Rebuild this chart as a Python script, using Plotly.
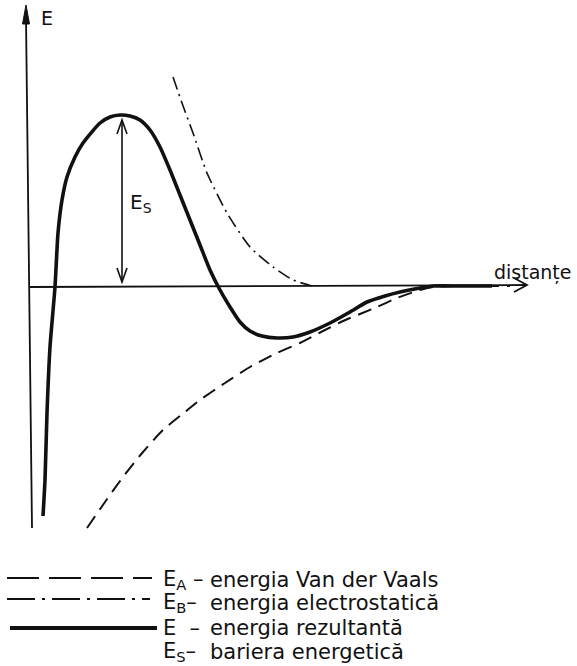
import plotly.graph_objects as go

# ---- data (distance, energy) in arbitrary units; origin at the axes crossing ----
# E - resultant energy (solid, thick)
dist_E = [13, 15, 17, 20, 25, 28, 32, 37, 45, 53, 70, 80, 90, 100, 110, 120, 130,
          140, 150, 160, 170, 180, 190, 200, 210, 220, 232, 247, 263, 280, 300,
          320, 337, 355, 370, 390, 403, 430, 462]
energy_E = [-230, -194, -127, -61, -1, 53, 86, 109, 129, 143, 163, 169, 171, 170,
            166, 156, 139, 116, 91, 66, 41, 16, -4, -21, -36, -45, -50, -52, -51,
            -46, -37, -26, -16, -10, -6, -2, 0, 0, 0]

# E_A - Van der Waals energy (dashed)
dist_A = [57, 75, 93, 113, 133, 155, 170, 195, 220, 247, 270, 293, 313, 347, 367,
          390, 403, 430, 480]
energy_A = [-242, -216, -191, -166, -144, -126, -114, -97, -81, -67, -57, -45, -35,
            -21, -12, -4, -1, 0, 0]

# E_B - electrostatic energy (dash-dot)
dist_B = [143, 152, 163, 177, 197, 220, 243, 263, 282]
energy_B = [209, 183, 153, 113, 73, 39, 19, 6, 0]

# energy barrier E_s (position of the double arrow)
barrier_dist = 92
barrier_low, barrier_high = 4, 166

axis_label_y = "E"
axis_label_x = "distanțe"
legend_symbols = ["E<sub>A</sub> –", "E<sub>B</sub>–", "E  –", "E<sub>S</sub>–"]
legend_texts = ["energia Van der Vaals", "energia electrostatică",
                "energia rezultantă", "bariera energetică"]

FONT = "DejaVu Sans"
BLACK = "#111111"

fig = go.Figure()

# curves
fig.add_trace(go.Scatter(x=dist_A, y=energy_A, mode="lines",
                         line=dict(color=BLACK, width=2, dash="14px,8px", shape="spline", smoothing=0.6),
                         hoverinfo="skip"))
fig.add_trace(go.Scatter(x=dist_B, y=energy_B, mode="lines",
                         line=dict(color=BLACK, width=1.6, dash="13px,5px,2px,5px", shape="spline", smoothing=0.6),
                         hoverinfo="skip"))
fig.add_trace(go.Scatter(x=dist_E, y=energy_E, mode="lines",
                         line=dict(color=BLACK, width=3.6, shape="spline", smoothing=0.6),
                         hoverinfo="skip"))

shapes = []
# y axis (slightly tilted as drawn) and x axis
shapes.append(dict(type="line", x0=2, y0=-242, x1=-4, y1=268, line=dict(color=BLACK, width=1.8)))
shapes.append(dict(type="path", path="M -4,281 L -7.5,262 L -0.5,262 Z",
                   fillcolor=BLACK, line=dict(color=BLACK, width=1)))
shapes.append(dict(type="line", x0=0, y0=-1, x1=497, y1=1, line=dict(color=BLACK, width=1.8)))
shapes.append(dict(type="path", path="M 484,8 L 497,1 L 484,-6",
                   line=dict(color=BLACK, width=1.8)))
# E_s double arrow
shapes.append(dict(type="line", x0=barrier_dist, y0=barrier_low, x1=barrier_dist, y1=barrier_high,
                   line=dict(color=BLACK, width=1.6)))
shapes.append(dict(type="path",
                   path=f"M {barrier_dist-5},{barrier_high-14} L {barrier_dist},{barrier_high} L {barrier_dist+5},{barrier_high-14}",
                   line=dict(color=BLACK, width=1.6)))
shapes.append(dict(type="path",
                   path=f"M {barrier_dist-5},{barrier_low+14} L {barrier_dist},{barrier_low} L {barrier_dist+5},{barrier_low+14}",
                   line=dict(color=BLACK, width=1.6)))

# legend samples (drawn below the plot)
line_y = [-292, -313, -342]
text_y = [-294, -317, -342, -366]
shapes.append(dict(type="line", x0=-23, y0=line_y[0], x1=122, y1=line_y[0],
                   line=dict(color=BLACK, width=1.8, dash="32px,10px")))
shapes.append(dict(type="line", x0=-23, y0=line_y[1], x1=120, y1=line_y[1],
                   line=dict(color=BLACK, width=1.8, dash="28px,7px,3px,7px")))
shapes.append(dict(type="line", x0=-20, y0=line_y[2], x1=127, y1=line_y[2],
                   line=dict(color=BLACK, width=3.8)))

annotations = [
    dict(x=17, y=268, text=axis_label_y, showarrow=False, xanchor="center", yanchor="middle",
         font=dict(family=FONT, size=19, color=BLACK)),
    dict(x=503, y=14, text=axis_label_x, showarrow=False, xanchor="center", yanchor="middle",
         font=dict(family=FONT, size=19, color=BLACK)),
    dict(x=98, y=83, text="E<sub>S</sub>", showarrow=False, xanchor="left", yanchor="middle",
         font=dict(family=FONT, size=20, color=BLACK)),
]
for sym, txt, yy in zip(legend_symbols, legend_texts, text_y):
    annotations.append(dict(x=131, y=yy, text=sym, showarrow=False, xanchor="left", yanchor="middle",
                            font=dict(family=FONT, size=21, color=BLACK)))
    annotations.append(dict(x=178, y=yy, text=txt, showarrow=False, xanchor="left", yanchor="middle",
                            font=dict(family=FONT, size=21, color=BLACK)))

fig.update_layout(
    width=577, height=666,
    margin=dict(l=0, r=0, t=0, b=0),
    paper_bgcolor="white", plot_bgcolor="white",
    showlegend=False,
    xaxis=dict(range=[-30, 547], visible=False, fixedrange=True),
    yaxis=dict(range=[-380, 286], visible=False, fixedrange=True),
    shapes=shapes, annotations=annotations,
)

fig.write_html("out.html", config={"displayModeBar": False},
               post_script="document.body.style.margin='0';document.body.style.overflow='hidden';")
